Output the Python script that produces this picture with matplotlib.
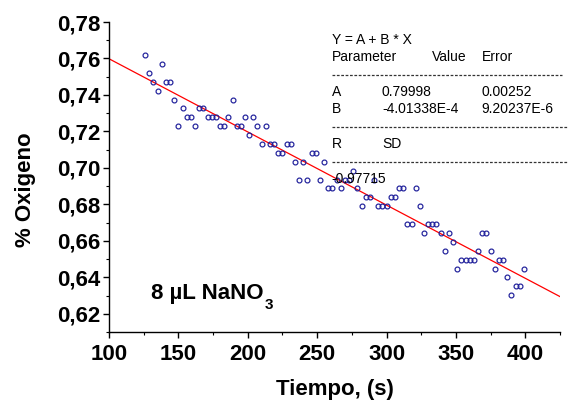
import matplotlib
matplotlib.use("Agg")
import matplotlib.pyplot as plt
from matplotlib.lines import Line2D
from matplotlib.ticker import MultipleLocator, FuncFormatter
import numpy as np

plt.rcParams['font.family'] = ['Liberation Sans', 'DejaVu Sans']

# Measured oxygen fraction vs. time (s)
tiempo = [126, 129, 132, 135, 138, 141, 144, 147, 150, 153,
          156, 159, 162, 165, 168, 171, 174, 177, 180, 183,
          186, 189, 192, 195, 198, 201, 204, 207, 210, 213,
          216, 219, 222, 225, 228, 231, 234, 237, 240, 243,
          246, 249, 252, 255, 258, 261, 264, 267, 270, 273,
          276, 279, 282, 285, 288, 291, 294, 297, 300, 303,
          306, 309, 312, 315, 318, 321, 324, 327, 330, 333,
          336, 339, 342, 345, 348, 351, 354, 357, 360, 363,
          366, 369, 372, 375, 378, 381, 384, 387, 390, 393,
          396, 399]
oxigeno = [0.7619, 0.7521, 0.7473, 0.7424, 0.7570, 0.7473, 0.7473, 0.7375, 0.7229, 0.7326,
           0.7277, 0.7277, 0.7229, 0.7326, 0.7326, 0.7277, 0.7277, 0.7277, 0.7229, 0.7229,
           0.7277, 0.7375, 0.7229, 0.7229, 0.7277, 0.7180, 0.7277, 0.7229, 0.7131, 0.7229,
           0.7131, 0.7131, 0.7082, 0.7082, 0.7131, 0.7131, 0.7033, 0.6936, 0.7033, 0.6936,
           0.7082, 0.7082, 0.6936, 0.7033, 0.6887, 0.6887, 0.6936, 0.6887, 0.6936, 0.6936,
           0.6985, 0.6887, 0.6789, 0.6838, 0.6838, 0.6936, 0.6789, 0.6789, 0.6789, 0.6838,
           0.6838, 0.6887, 0.6887, 0.6692, 0.6692, 0.6887, 0.6789, 0.6643, 0.6692, 0.6692,
           0.6692, 0.6643, 0.6545, 0.6643, 0.6594, 0.6448, 0.6497, 0.6497, 0.6497, 0.6497,
           0.6545, 0.6643, 0.6643, 0.6545, 0.6448, 0.6497, 0.6497, 0.6399, 0.6301, 0.6350,
           0.6350, 0.6448]

# Linear fit Y = A + B*X
A = 0.79998
B = -4.01338e-4
A_err = 0.00252
B_err = 9.20237e-6
R = -0.97715

x_lim = (100, 425)
y_lim = (0.61, 0.78)

W, H = 568, 407
fig = plt.figure(figsize=(W / 100, H / 100), dpi=100)
ax = fig.add_axes([109 / W, (H - 332) / H, 451 / W, 310 / H])

ax.plot(tiempo, oxigeno, linestyle='none', marker='o', markersize=3.5,
        markerfacecolor='none', markeredgecolor='#1e1e9a', markeredgewidth=0.85,
        clip_on=False, zorder=3)

xf = np.array(x_lim, dtype=float)
ax.plot(xf, A + B * xf, color='red', lw=0.9, zorder=2)

ax.set_xlim(*x_lim)
ax.set_ylim(*y_lim)
ax.spines['top'].set_visible(False)
ax.spines['right'].set_visible(False)
for s in ('left', 'bottom'):
    ax.spines[s].set_linewidth(1.0)

ax.xaxis.set_major_locator(MultipleLocator(50))
ax.xaxis.set_minor_locator(MultipleLocator(25))
ax.yaxis.set_minor_locator(MultipleLocator(0.01))
ax.set_yticks([0.62, 0.64, 0.66, 0.68, 0.70, 0.72, 0.74, 0.76, 0.78])
ax.yaxis.set_major_formatter(FuncFormatter(lambda v, p: f"{v:.2f}".replace('.', ',')))
ax.tick_params(which='major', direction='out', length=4, width=1.0,
               labelsize=16, pad=2)
ax.tick_params(which='minor', direction='out', length=2.5, width=0.8)
ax.tick_params(axis='x', which='major', pad=5)
for lab in ax.get_xticklabels() + ax.get_yticklabels():
    lab.set_fontweight('bold')

fig.text(335 / W, 1 - 395 / H, 'Tiempo, (s)', ha='center', va='baseline',
         fontsize=16, fontweight='bold')
fig.text(25 / W, 1 - 190 / H, '% Oxigeno', ha='center', va='center',
         rotation=90, fontsize=16, fontweight='bold')

# Sample label with subscript
main = fig.text(151 / W, 1 - 299 / H, '8 \u00b5L NaNO', ha='left',
                va='baseline', fontsize=16, fontweight='bold')
fig.canvas.draw()
bb = main.get_window_extent(renderer=fig.canvas.get_renderer())
fig.text(bb.x1 / W + 1 / W, 1 - 309 / H, '3', ha='left', va='baseline',
         fontsize=11, fontweight='bold')

# Fit report
fs = 10


def t(x, y, s):
    fig.text(x / W, 1 - y / H, s, ha='left', va='baseline', fontsize=fs)


def dashes(y, x0, x1):
    fig.add_artist(Line2D([x0 / W, x1 / W], [1 - y / H, 1 - y / H],
                          transform=fig.transFigure, color='#333333', lw=0.9,
                          linestyle=(0, (2.2, 1.3))))


t(332, 44.3, 'Y = A + B * X')
t(332, 61, 'Parameter')
t(432, 61, 'Value')
t(481.5, 61, 'Error')
dashes(75, 332, 562)
t(332, 95.7, 'A')
t(382, 95.7, f'{A:.5f}')
t(481.5, 95.7, f'{A_err:.5f}')
t(332, 112.7, 'B')
t(382, 112.7, '-4.01338E-4')
t(481.5, 112.7, '9.20237E-6')
dashes(126.7, 332, 568)
t(332, 147.7, 'R')
t(382, 147.7, 'SD')
dashes(162.3, 332, 568)
t(331, 182.7, f'{R:.5f}')

fig.savefig('out.png', dpi=100)
